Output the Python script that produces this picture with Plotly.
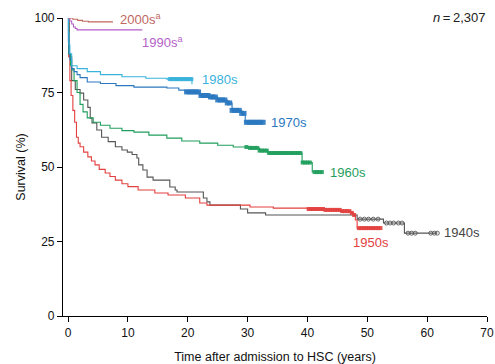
import numpy as np
import plotly.graph_objects as go

# ---- data (Kaplan-Meier step points: time in years, survival %) ----
t_1940s = [0, 0.2, 0.6, 1.2, 2.0, 2.6, 3.3, 3.7, 4.0, 4.8, 5.6, 6.7, 7.9, 9.0, 9.9, 10.7, 11.5, 11.8, 12.5,
           13.2, 14.2, 17.0, 17.9, 18.2, 22.6, 23.2, 23.7, 28.8, 30.0, 33.0, 48.3, 52.7, 56.2, 61.7]
s_1940s = [100, 87, 79, 76, 74.8, 72.5, 70, 66.4, 64.8, 62.4, 60, 58.5, 56.8, 55.7, 55, 54.2, 53, 50.7, 49,
           46.6, 45.6, 43.3, 42.3, 41.6, 39.6, 38.3, 37.2, 35.9, 34.6, 33.9, 32.5, 31.2, 27.8, 27.8]
c_1940s = [48.8, 49.5, 50.2, 51.0, 51.8, 53.2, 53.8, 54.4, 55.2, 55.8, 56.8, 57.4, 58.0, 60.6, 61.2, 61.7]

t_1950s = [0, 0.1, 0.3, 0.5, 0.8, 1.1, 1.4, 1.7, 2.0, 2.6, 3.3, 3.9, 4.5, 5.2, 6.2, 7.0, 7.9, 9.0, 10.0,
           11.7, 14.5, 16.7, 19.6, 22.0, 23.2, 30.4, 34.3, 40.0, 43.0, 45.5, 47.2, 47.7, 48.0, 48.3, 52.2]
s_1950s = [100, 87, 79, 74, 69, 65, 60, 58, 56.8, 55, 53.4, 52, 50.7, 49.2, 48, 46.8, 45.6, 44.4, 43.4,
           42.3, 41.3, 40.6, 39.6, 37.9, 37.2, 36.6, 36.2, 35.9, 35.6, 35.2, 34.6, 33.9, 32.2, 29.5, 29.5]
c_1950s = [40.2, 40.6, 41.0, 41.4, 41.8, 42.2, 42.6, 43.0, 43.4, 43.8, 44.2, 44.6, 45.0, 45.4, 45.8,
           46.2, 46.6, 47.0, 47.4, 47.8,
           48.6, 49.0, 49.4, 49.8, 50.2, 50.6, 51.0, 51.4, 51.8, 52.2]

t_1960s = [0, 0.1, 0.4, 0.6, 1.0, 1.5, 2.0, 2.5, 3.2, 4.2, 5.4, 7.0, 9.0, 11.0, 13.5, 16.5, 19.0, 22.0,
           25.0, 27.6, 30.4, 32.0, 33.3, 39.1, 40.8, 42.5]
s_1960s = [100, 88, 84, 82.6, 79, 75, 71, 68.5, 66.5, 65, 64, 63, 62.2, 61.7, 60.7, 59.7, 58.7, 58,
           57.3, 56.7, 56.4, 55.5, 54.7, 51.5, 48.3, 48.3]
c_1960s = [29.8, 30.4, 30.8, 31.2, 31.6, 32.0, 32.4, 32.8, 33.2, 33.6, 34.0, 34.4, 34.8, 35.2, 35.6,
           36.0, 36.4, 36.8, 37.2, 37.6, 38.0, 38.4, 38.8, 39.2, 39.6, 40.0, 40.4, 41.2, 41.6, 42.0, 42.4]

t_1970s = [0, 0.05, 0.15, 0.3, 0.6, 1.0, 1.5, 2.0, 3.2, 5.4, 8.0, 11.0, 16.5, 18.5, 19.6, 22.0, 23.5,
           25.0, 26.6, 27.4, 29.0, 29.6, 32.6]
s_1970s = [100, 92, 88, 86, 83, 82, 81, 80, 78.5, 78, 77.3, 76.8, 76.5, 75.8, 75.2, 74, 73.5,
           72.5, 71.5, 69, 68, 65, 65]
c_1970s = [19.8, 20.2, 20.6, 21.0, 21.4, 21.8, 22.2, 22.6, 23.0, 23.4, 23.8, 24.2, 24.6, 25.0, 25.4,
           25.8, 26.2, 26.6, 27.0, 27.4, 27.8, 28.2, 28.6, 29.0, 29.4, 29.8, 30.2, 30.6, 31.0, 31.4,
           31.8, 32.2, 32.6]

t_1980s = [0, 0.05, 0.15, 0.3, 0.6, 1.5, 3.2, 5.4, 9.0, 13.0, 16.5, 20.7]
s_1980s = [100, 95, 91, 88, 84, 83, 82, 81, 80.3, 79.8, 79.5, 77.8]
c_1980s = [17.0, 17.3, 17.6, 17.9, 18.2, 18.5, 18.8, 19.1, 19.4, 19.7, 20.0, 20.3, 20.6]

t_1990s = [0, 0.3, 0.6, 0.9, 1.2, 1.5, 12.4]
s_1990s = [100, 99, 98, 97, 96.5, 96, 96]

t_2000s = [0, 0.8, 1.6, 2.4, 3.4, 7.5]
s_2000s = [100, 99.6, 99.2, 98.9, 98.7, 98.7]

x_ticks = [0, 10, 20, 30, 40, 50, 60, 70]
y_ticks = [0, 25, 50, 75, 100]

series = [
    ("1940s", t_1940s, s_1940s, c_1940s, "#555555", "circle-open", 4),
    ("1950s", t_1950s, s_1950s, c_1950s, "#e2403e", "square", 4),
    ("1960s", t_1960s, s_1960s, c_1960s, "#1f9e5c", "square", 4),
    ("1970s", t_1970s, s_1970s, c_1970s, "#2a78c0", "square", 5),
    ("1980s", t_1980s, s_1980s, c_1980s, "#3ab3dc", "square", 4),
    ("1990s", t_1990s, s_1990s, [], "#b45fc8", "square", 4),
    ("2000s", t_2000s, s_2000s, [], "#c0675e", "square", 4),
]

def step_value(t, s, x):
    idx = np.searchsorted(np.array(t), x, side="right") - 1
    return float(np.array(s)[idx])

fig = go.Figure()
for name, t, s, c, col, sym, msz in series:
    fig.add_trace(go.Scatter(x=t, y=s, mode="lines", line=dict(color=col, width=1.1, shape="hv"),
                             showlegend=False, cliponaxis=False, hoverinfo="skip"))
    if c:
        fig.add_trace(go.Scatter(x=c, y=[step_value(t, s, xx) for xx in c], mode="markers",
                                 marker=dict(symbol=sym, size=msz, color=col, opacity=0.9,
                                             line=dict(color=col, width=1 if sym == "circle-open" else 0)),
                                 showlegend=False, cliponaxis=False, hoverinfo="skip"))

font_fam = "Liberation Sans, Arial, sans-serif"
labels = [
    ("2000s<sup>a</sup>", 8.4, 99.6, "#c0675e"),
    ("1990s<sup>a</sup>", 12.0, 92.0, "#b45fc8"),
    ("1980s", 22.1, 79.5, "#3ab3dc"),
    ("1970s", 33.6, 65.0, "#2a78c0"),
    ("1960s", 43.5, 48.3, "#1f9e5c"),
    ("1950s", 47.3, 24.5, "#e2403e"),
    ("1940s", 62.4, 27.9, "#444444"),
]
for txt, x, y, col in labels:
    fig.add_annotation(x=x, y=y, text=txt, showarrow=False, xanchor="left", yanchor="middle",
                       font=dict(family=font_fam, size=13, color=col))
fig.add_annotation(x=1.002, y=1.003, xref="paper", yref="paper", text="<i>n</i>\u2009=\u20092,307",
                   showarrow=False, xanchor="right", yanchor="middle",
                   font=dict(family=font_fam, size=13, color="#222222"))

fig.update_layout(
    width=495, height=364,
    margin=dict(l=63, r=8, t=18, b=48),
    plot_bgcolor="white", paper_bgcolor="white",
    font=dict(family=font_fam, size=12, color="#111111"),
    xaxis=dict(range=[-0.85, 70], tickvals=x_ticks, ticks="outside", ticklen=5, tickwidth=1.2,
               tickcolor="black", showline=True, linecolor="black", linewidth=1.2, showgrid=False,
               zeroline=False, automargin=False, ticklabeloverflow="allow",
               tickfont=dict(size=12),
               title=dict(text="Time after admission to HSC (years)", standoff=15,
                          font=dict(size=12.5))),
    yaxis=dict(range=[0, 100], tickvals=y_ticks, ticks="outside", ticklen=5, tickwidth=1.2,
               tickcolor="black", showline=True, linecolor="black", linewidth=1.2, showgrid=False,
               zeroline=False, automargin=False, tickfont=dict(size=12),
               title=dict(text="Survival (%)", standoff=6, font=dict(size=12.5))),
)

fig.write_html("out.html", config={"displayModeBar": False},
               post_script="document.body.style.margin='0';document.body.style.overflow='hidden';")
